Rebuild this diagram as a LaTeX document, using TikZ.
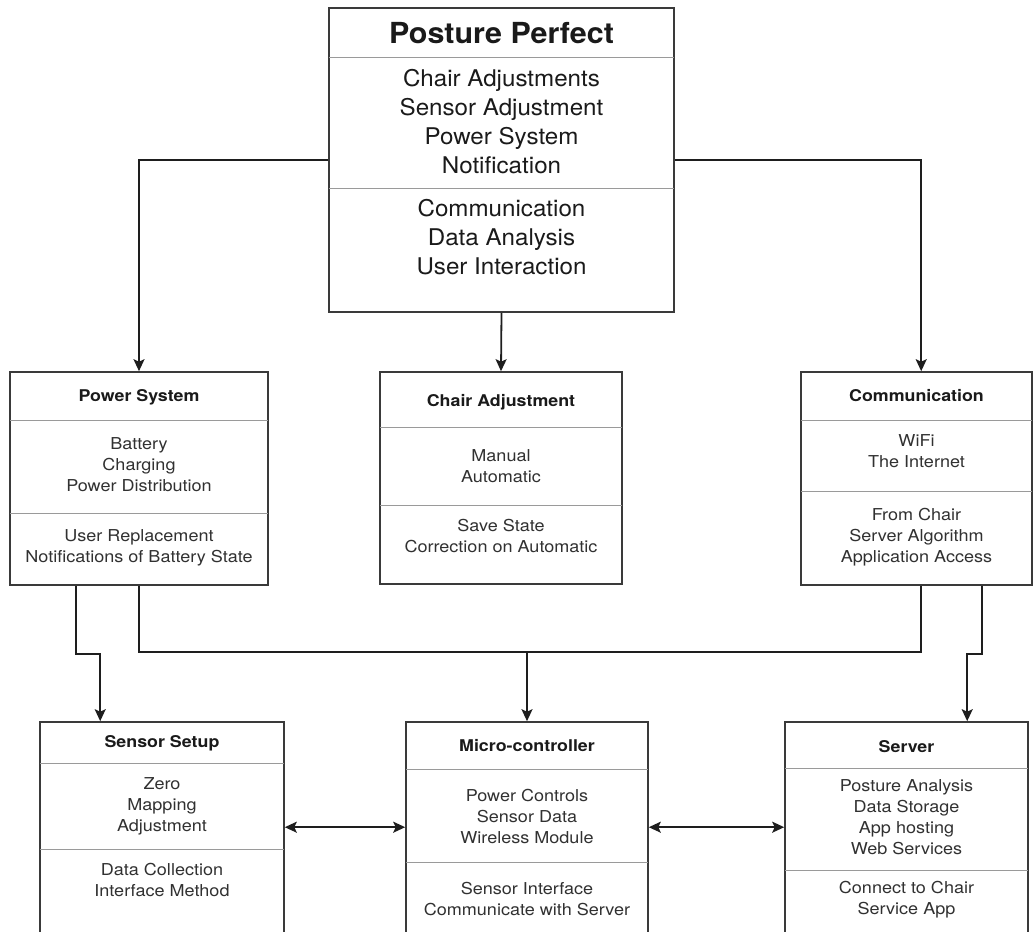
\documentclass[tikz,border=0pt]{standalone}
\usepackage{fontspec}
\setmainfont{TeX Gyre Heros}
\newfontfamily\widefam{TeX Gyre Heros}[FakeStretch=1.1]
\newfontfamily\headfam{TeX Gyre Heros}[FakeStretch=1.05]
\usetikzlibrary{calc,arrows.meta}

\definecolor{edge}{HTML}{3A3A3A}
\definecolor{rule}{HTML}{9A9A9A}
\definecolor{ink}{HTML}{1A1A1A}
\definecolor{wire}{HTML}{1E1E1E}

\begin{document}
\begin{tikzpicture}[x=1pt,y=-1pt,
  box/.style={draw=edge,line width=1.6pt,rectangle,inner sep=0pt,fill=white},
  divider/.style={draw=rule,line width=1.3pt},
  bigtitle/.style={font=\headfam\fontsize{29}{34}\selectfont\bfseries,text=ink},
  bigtext/.style={font=\headfam\fontsize{23}{29}\selectfont,text=ink,align=center},
  smalltitle/.style={font=\widefam\fontsize{16.2}{19}\selectfont\bfseries,text=ink},
  smalltext/.style={font=\widefam\fontsize{16.4}{21}\selectfont,text=ink!90,align=center},
  wireline/.style={draw=wire,line width=1.8pt},
  tip/.tip={Stealth[length=12pt,width=11pt,inset=2.5pt]},
  arrow/.style={wireline,-tip},
  twoway/.style={wireline,tip-tip}]

\useasboundingbox (0,0) rectangle (1034,932);
\clip (0,0) rectangle (1034,932);

% ---------- boxes ----------
\node[box,minimum width=345pt,minimum height=304pt] (top) at (501.5,160) {};
\node[box,minimum width=258pt,minimum height=213pt] (pw) at (139,478.5) {};
\node[box,minimum width=242pt,minimum height=212pt] (ch) at (501,478) {};
\node[box,minimum width=231pt,minimum height=213pt] (cm) at (916.5,478.5) {};
\node[box,minimum width=244pt,minimum height=240pt] (ss) at (162,842) {};
\node[box,minimum width=242pt,minimum height=240pt] (mc) at (527,842) {};
\node[box,minimum width=243pt,minimum height=240pt] (sv) at (906.5,842) {};

% ---------- section dividers ----------
\foreach \b/\d in {top/50,top/181,pw/49,pw/142,ch/56,ch/134,cm/49,cm/120,
                   ss/42,ss/128,mc/48,mc/141,sv/47,sv/149}
  \draw[divider] ($(\b.north west)+(0.8,\d)$) -- ($(\b.north east)+(-0.8,\d)$);

% ---------- texts ----------
\node[bigtitle] (topT) at (501.5,33) {Posture Perfect};
\node[bigtext] (topA) at (501.5,122) {Chair Adjustments\\Sensor Adjustment\\Power System\\Notification};
\node[bigtext] (topB) at (501.5,237) {Communication\\Data Analysis\\User Interaction};

\node[smalltitle] (pwT) at (139,397) {Power System};
\node[smalltext] (pwA) at (139,465) {Battery\\Charging\\Power Distribution};
\node[smalltext] (pwB) at (139,548) {User Replacement\\Notifications of Battery State};

\node[smalltitle] (chT) at (501,402) {Chair Adjustment};
\node[smalltext] (chA) at (501,466) {Manual\\Automatic};
\node[smalltext] (chB) at (501,536) {Save State\\Correction on Automatic};

\node[smalltitle] (cmT) at (916.5,396) {Communication};
\node[smalltext] (cmA) at (916.5,451) {WiFi\\The Internet};
\node[smalltext] (cmB) at (916.5,537) {From Chair\\Server Algorithm\\Application Access};

\node[smalltitle] (ssT) at (162,743) {Sensor Setup};
\node[smalltext] (ssA) at (162,806) {Zero\\Mapping\\Adjustment};
\node[smalltext] (ssB) at (162,880) {Data Collection\\Interface Method};

\node[smalltitle] (mcT) at (527,746) {Micro-controller};
\node[smalltext] (mcA) at (527,816) {Power Controls\\Sensor Data\\Wireless Module};
\node[smalltext] (mcB) at (527,899) {Sensor Interface\\Communicate with Server};

\node[smalltitle] (svT) at (906.5,747) {Server};
\node[smalltext] (svA) at (906.5,817) {Posture Analysis\\Data Storage\\App hosting\\Web Services};
\node[smalltext] (svB) at (906.5,900) {Connect to Chair\\Service App};

% ---------- connection points ----------
\coordinate (cmIn)  at ($(cm.north west)+(121,0)$);
\coordinate (pwOutA) at ($(pw.south west)+(67,0)$);
\coordinate (ssIn)  at ($(ss.north west)+(61,0)$);
\coordinate (cmOutA) at ($(cm.south west)+(121,0)$);
\coordinate (cmOutB) at ($(cm.south west)+(182,0)$);
\coordinate (svIn)  at ($(sv.north west)+(183,0)$);
\coordinate (bus)   at ($(mc.north)+(0,-69)$);
\coordinate (ssSide) at ($(ss.north east)+(0,106)$);
\coordinate (mcLeft) at ($(mc.north west)+(0,106)$);
\coordinate (mcRight) at ($(mc.north east)+(0,106)$);
\coordinate (svSide) at ($(sv.north west)+(0,106)$);

% ---------- connectors ----------
\draw[arrow] (top.west) -| (pw.north);
\draw[arrow] (top.south) -- (ch.north);
\draw[arrow] (top.east) -| (cmIn);

\draw[arrow] (pwOutA) -- ++(0,68) -| (ssIn);
\draw[wireline] (pw.south) |- (bus) -| (cmOutA);
\draw[arrow] (bus) -- (mc.north);
\draw[arrow] (cmOutB) -- ++(0,68) -| (svIn);

\draw[twoway] (ssSide) -- (mcLeft);
\draw[twoway] (mcRight) -- (svSide);
\end{tikzpicture}
\end{document}
